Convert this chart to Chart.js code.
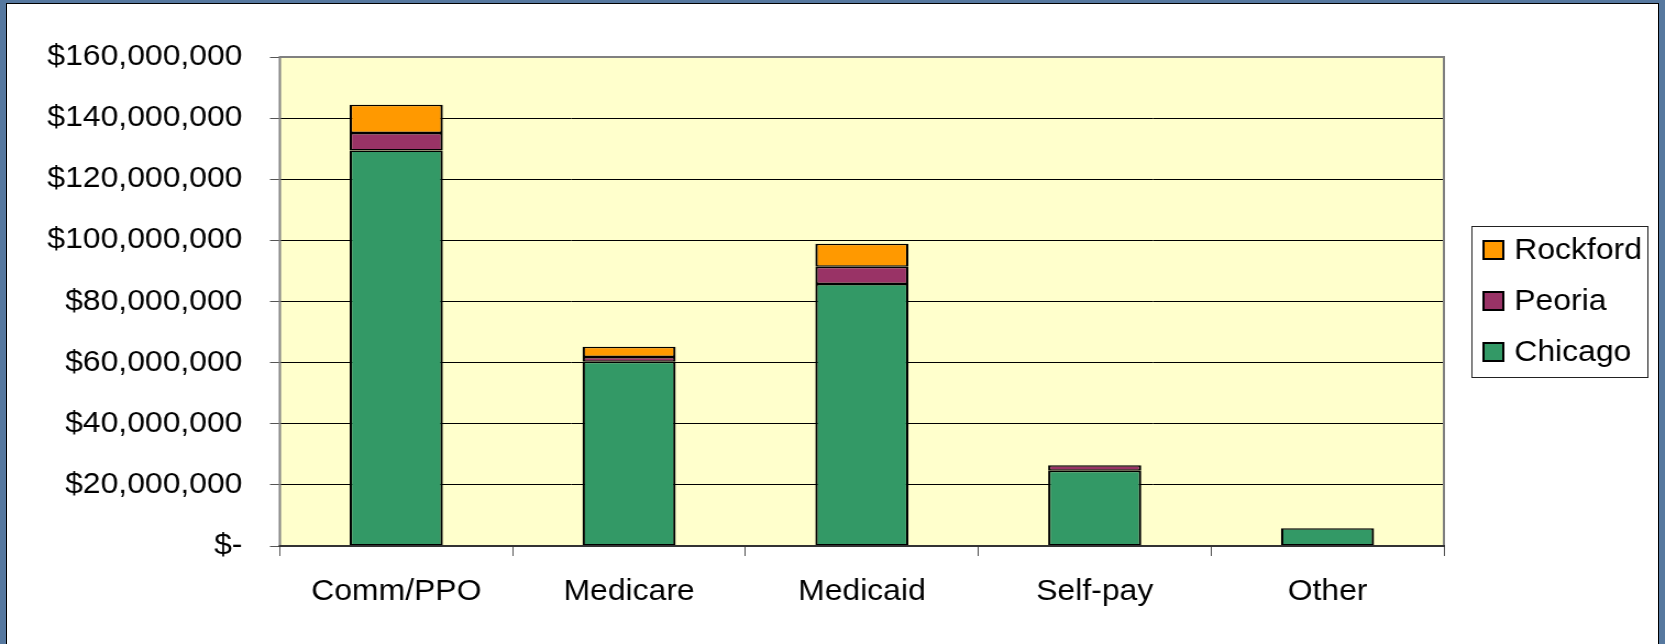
<!DOCTYPE html>
<html>
<head>
<meta charset="utf-8">
<script src="https://cdn.jsdelivr.net/npm/chart.js@4.4.1/dist/chart.umd.min.js"></script>
<style>
  html, body { margin: 0; padding: 0; width: 1665px; height: 644px; overflow: hidden; background: #56789f; }
  #frame { position: absolute; left: 6px; top: 3px; width: 1651px; height: 660px; background: #fff; border: 1px solid #000; }
  /* the original picture is stretched sideways a little, so the canvas is too */
  #wrap { position: absolute; left: 0; top: 0; width: 1514px; height: 644px; transform: scaleX(1.0997); transform-origin: 0 0; }
</style>
</head>
<body>
<div id="frame"></div>
<div id="wrap"><canvas id="chart"></canvas></div>
<script>
const categories = ["Comm/PPO", "Medicare", "Medicaid", "Self-pay", "Other"];
const chicago = [129.4e6, 60.3e6, 85.7e6, 24.6e6, 5.8e6];
const peoria = [5.7e6, 1.5e6, 5.7e6, 1.8e6, 0];
const rockford = [9.3e6, 3.4e6, 7.5e6, 0, 0];
const yTicks = [0, 20e6, 40e6, 60e6, 80e6, 100e6, 120e6, 140e6, 160e6];
const yTickLabels = ["$-", "$20,000,000", "$40,000,000", "$60,000,000", "$80,000,000",
  "$100,000,000", "$120,000,000", "$140,000,000", "$160,000,000"];

const font = { family: "'Liberation Sans', Arial, sans-serif", size: 29 };

// yellow plot background + grey frame
const plotArea = {
  id: "plotArea",
  beforeDraw(chart) {
    const a = chart.chartArea, ctx = chart.ctx;
    ctx.save();
    ctx.fillStyle = "#FFFFCC";
    ctx.fillRect(a.left, a.top, a.right - a.left, a.bottom - a.top);
    ctx.restore();
  },
  afterDatasetsDraw(chart) {
    const a = chart.chartArea, ctx = chart.ctx;
    ctx.save();
    ctx.strokeStyle = "#808080";
    ctx.lineWidth = 2;
    ctx.beginPath();
    ctx.moveTo(a.left, a.bottom);
    ctx.lineTo(a.left, a.top);
    ctx.lineTo(a.right, a.top);
    ctx.lineTo(a.right, a.bottom);
    ctx.stroke();
    ctx.strokeStyle = "#333";
    ctx.beginPath();
    ctx.moveTo(a.left - 1, a.bottom);
    ctx.lineTo(a.right + 1, a.bottom);
    ctx.stroke();
    ctx.restore();
  }
};

// boxed legend on the right, top item = last series
const boxLegend = {
  id: "boxLegend",
  afterDraw(chart) {
    const ctx = chart.ctx;
    const bx = 1338, by = 226, bw = 160, bh = 151;
    ctx.save();
    ctx.fillStyle = "#fff";
    ctx.fillRect(bx, by, bw, bh);
    ctx.strokeStyle = "#222";
    ctx.lineWidth = 1;
    ctx.strokeRect(bx + 0.5, by + 0.5, bw, bh);
    const items = chart.data.datasets.slice().reverse();
    items.forEach((ds, i) => {
      const cy = 250 + i * 51;
      ctx.fillStyle = ds.backgroundColor;
      ctx.fillRect(1349, cy - 9, 18, 18);
      ctx.strokeStyle = "#000";
      ctx.lineWidth = 2;
      ctx.strokeRect(1349, cy - 9, 18, 18);
      ctx.fillStyle = "#000";
      ctx.font = font.size + "px " + font.family;
      ctx.textBaseline = "middle";
      ctx.fillText(ds.label, 1377, cy + 1);
    });
    ctx.restore();
  }
};

const bar = { borderColor: "#000", borderWidth: { top: 1.5, bottom: 1.5, left: 2.2, right: 2.2 },
  borderSkipped: false, barPercentage: 0.4, categoryPercentage: 1 };

new Chart(document.getElementById("chart"), {
  type: "bar",
  data: {
    labels: categories,
    datasets: [
      { label: "Chicago", data: chicago, backgroundColor: "#339966", ...bar },
      { label: "Peoria", data: peoria, backgroundColor: "#993366", ...bar },
      { label: "Rockford", data: rockford, backgroundColor: "#FF9900", ...bar },
    ],
  },
  options: {
    responsive: true,
    maintainAspectRatio: false,
    animation: false,
    layout: { padding: { left: 0, right: 201, top: 57, bottom: 0 } },
    plugins: { legend: { display: false }, tooltip: { enabled: false } },
    scales: {
      x: {
        stacked: true,
        grid: { offset: true, drawOnChartArea: false, tickLength: 10, tickColor: "#555", lineWidth: 1 },
        border: { display: false },
        ticks: { color: "#000", font, padding: 19, maxRotation: 0 },
        afterFit: (s) => { s.height = 98; },
      },
      y: {
        stacked: true,
        min: 0,
        max: 160e6,
        afterBuildTicks: (s) => { s.ticks = yTicks.map((v) => ({ value: v })); },
        ticks: { color: "#000", font, padding: 25, callback: (v, i) => yTickLabels[i] },
        grid: { color: "#000", lineWidth: 1, tickLength: 9, tickColor: "#555" },
        border: { display: false },
        afterFit: (s) => { s.width = 254.5; },
      },
    },
  },
  plugins: [plotArea, boxLegend],
});
</script>
</body>
</html>
